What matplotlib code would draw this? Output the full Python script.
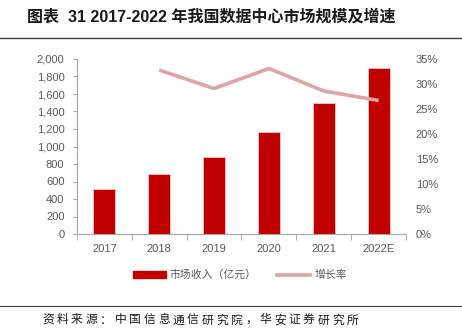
import numpy as np
import matplotlib.pyplot as plt
from matplotlib.patches import Patch
from matplotlib.lines import Line2D

years = ["2017", "2018", "2019", "2020", "2021", "2022E"]
revenue = [514, 687, 883, 1166, 1500, 1900]
growth_years = ["2018", "2019", "2020", "2021", "2022E"]
growth = [32.8, 29.1, 33.1, 28.6, 26.7]

BAR = "#C00000"
LINE = "#DDA5A5"
GREY = "#595959"
CJK = ["Noto Sans CJK SC", "DejaVu Sans"]
NUM = ["Liberation Sans", "Noto Sans CJK SC"]

plt.rcParams["font.family"] = NUM

fig = plt.figure(figsize=(4.62, 3.34), dpi=100)
ax = fig.add_axes([77 / 462, 1 - 234 / 334, (406 - 77) / 462, (234 - 59) / 334])
ax2 = ax.twinx()

x = np.arange(len(years))
ax.bar(x, revenue, width=0.4, color=BAR, edgecolor="#F0C8C8", linewidth=0.6, zorder=2)
gx = [years.index(y) for y in growth_years]
ax2.plot(gx, growth, color=LINE, lw=2.6, solid_capstyle="butt", zorder=3)

ax.set_xlim(-0.5, len(years) - 0.5)
ax.set_ylim(0, 2000)
ax.set_yticks(np.arange(0, 2001, 200))
ax.set_yticklabels([f"{v:,}" for v in range(0, 2001, 200)])
ax2.set_ylim(0, 35)
ax2.set_yticks(np.arange(0, 36, 5))
ax2.set_yticklabels([f"{v}%" for v in range(0, 36, 5)])

ax.set_xticks(x)
ax.set_xticklabels(years)
ax.set_xticks(np.arange(-0.5, len(years)), minor=True)
ax.tick_params(axis="x", which="major", length=0, pad=7, labelsize=8, colors=GREY)
ax.tick_params(axis="x", which="minor", length=4, color="#A6A6A6", direction="out")
ax.tick_params(axis="y", length=3, color="#A6A6A6", labelsize=8, colors=GREY, pad=6)
ax2.tick_params(axis="y", length=0, labelsize=8, colors=GREY, pad=7)

for s in ["top", "right"]:
    ax.spines[s].set_visible(False)
for s in ["top", "right", "left", "bottom"]:
    ax2.spines[s].set_visible(False)
ax.spines["left"].set_color("#A6A6A6")
ax.spines["bottom"].set_color("#A6A6A6")

handles = [Patch(color=BAR), Line2D([0], [0], color=LINE, lw=2.6)]
fig.legend(handles, ["市场收入（亿元）", "增长率"], loc="center", bbox_to_anchor=(240 / 462, 1 - 275 / 334),
           ncol=2, frameon=False, prop={"family": CJK, "size": 7.8}, labelcolor=GREY,
           handlelength=3.0, handleheight=0.5, columnspacing=1.9, handletextpad=0.4)

fig.text(27 / 462, 1 - 17 / 334, "图表  31 2017-2022 年我国数据中心市场规模及增速", family=NUM,
         fontsize=11.5, fontweight="bold", va="center", ha="left", color="#1a1a1a")
fig.add_artist(Line2D([0, 1], [1 - 38 / 334] * 2, color="#404040", lw=1.0))
fig.add_artist(Line2D([0, 1], [1 - 306 / 334] * 2, color="#404040", lw=0.8))

source = "资料来源：中国信息通信研究院，华安证券研究所"
for i, ch in enumerate(source):
    fig.text((42 + i * 14.5) / 462, 1 - 320 / 334, ch, family=CJK,
             fontsize=8.5, va="center", ha="left", color="#1a1a1a")

fig.savefig("out.png", dpi=100)
